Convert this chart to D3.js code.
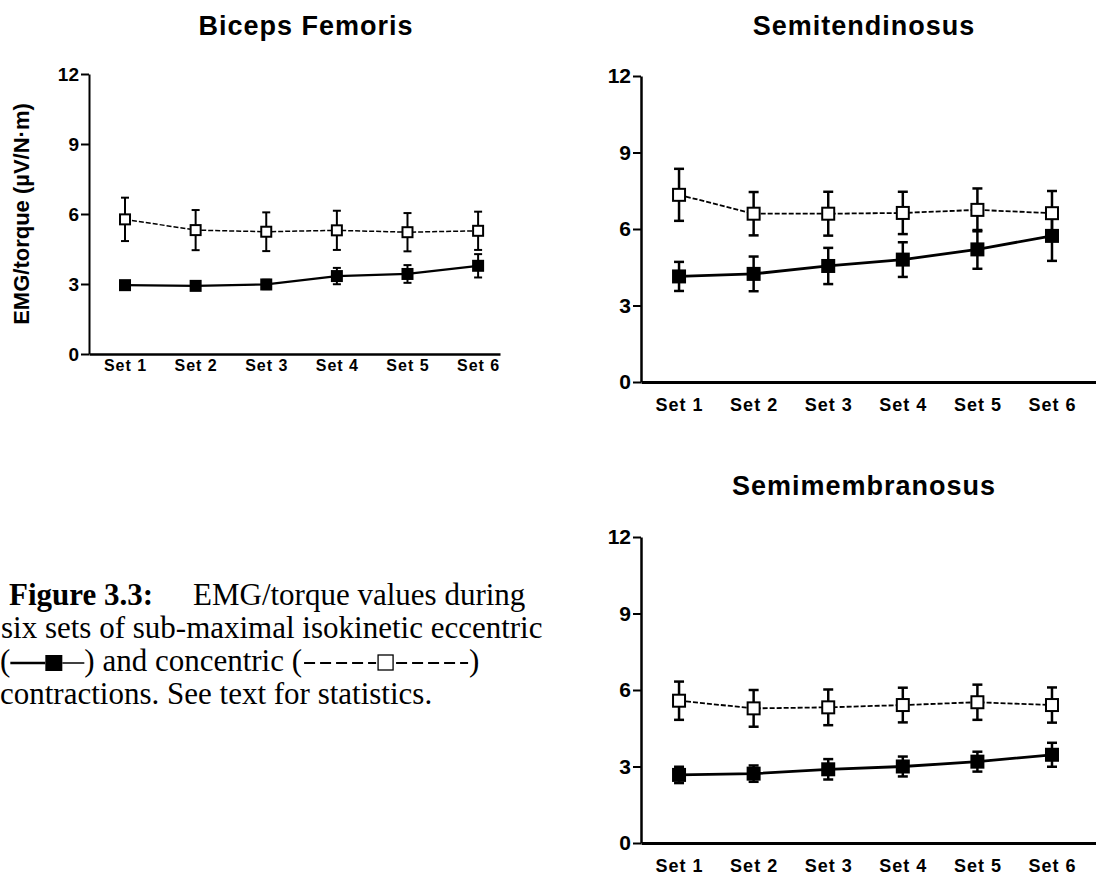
<!DOCTYPE html>
<html>
<head>
<meta charset="utf-8">
<script src="https://cdn.jsdelivr.net/npm/d3@7"></script>
<style>
    body { margin: 0; background: #fff; }
    svg { display: block; }
    .title { font-family: "Liberation Sans", Arial, sans-serif; font-weight: bold; letter-spacing: 1px; }
    .tick text { font-family: "Liberation Sans", Arial, sans-serif; font-weight: bold; fill: #000; }
    .ylabel { font-family: "Liberation Sans", Arial, sans-serif; font-weight: bold; font-size: 22px; }
    .caption { font-family: "Liberation Serif", "Times New Roman", serif; font-size: 31px; fill: #000; }
</style>
</head>
<body>
<svg id="fig" width="1096" height="875"></svg>
<script>

// data (mean and error bar half-length, EMG/torque in µV/N·m)
var sets = ["Set 1", "Set 2", "Set 3", "Set 4", "Set 5", "Set 6"];
var yTicks = [0, 3, 6, 9, 12];

var bfEcc    = [2.95, 2.92, 2.98, 3.34, 3.43, 3.78];
var bfEccErr = [0.15, 0.15, 0.20, 0.35, 0.38, 0.50];
var bfCon    = [5.77, 5.31, 5.24, 5.30, 5.22, 5.28];
var bfConErr = [0.93, 0.86, 0.83, 0.84, 0.82, 0.82];

var stEcc    = [4.14, 4.24, 4.55, 4.80, 5.20, 5.73];
var stEccErr = [0.57, 0.68, 0.71, 0.68, 0.76, 0.98];
var stCon    = [7.34, 6.60, 6.60, 6.63, 6.75, 6.62];
var stConErr = [1.02, 0.85, 0.86, 0.83, 0.84, 0.87];

var smEcc    = [2.67, 2.72, 2.89, 3.00, 3.19, 3.46];
var smEccErr = [0.32, 0.32, 0.40, 0.39, 0.39, 0.47];
var smCon    = [5.58, 5.28, 5.32, 5.41, 5.52, 5.41];
var smConErr = [0.75, 0.72, 0.70, 0.68, 0.69, 0.69];


var svg = d3.select("#fig");


Panel = function(_svg, _opts) {
    this.svg = _svg;
    this.o = _opts;
    this.initVis();
}

Panel.prototype.initVis = function() {
    var vis = this;
    var o = vis.o;

    vis.g = vis.svg.append("g");

    // x runs over set index; a bit of room left of set 1 and to the right
    vis.x = d3.scaleLinear()
        .domain(o.xDomain)
        .range([o.left, o.right]);

    vis.y = d3.scaleLinear()
        .domain([0, 12])
        .range([o.bottom, o.top]);

    vis.g.append("text")
        .attr("class", "title")
        .attr("x", o.titleX)
        .attr("y", o.titleY)
        .attr("text-anchor", "middle")
        .style("font-size", "27px")
        .text(o.title);

    var yAxis = vis.g.append("g")
        .attr("transform", "translate(" + o.left + ",0)")
        .call(d3.axisLeft(vis.y).tickValues(yTicks).tickSize(8).tickSizeOuter(0).tickPadding(2));
    yAxis.select(".domain").attr("stroke", "#000").attr("stroke-width", o.axisW);
    yAxis.selectAll(".tick line").attr("stroke", "#000").attr("stroke-width", 2);
    yAxis.selectAll(".tick text").style("font-size", o.yFont + "px");

    var xAxis = vis.g.append("g")
        .attr("transform", "translate(0," + o.bottom + ")")
        .call(d3.axisBottom(vis.x)
            .tickValues(d3.range(sets.length))
            .tickFormat(function(i) { return sets[i]; })
            .tickSize(0).tickSizeOuter(0).tickPadding(o.xPad));
    xAxis.select(".domain").attr("stroke", "#000").attr("stroke-width", o.axisW + 0.5);
    xAxis.selectAll(".tick text")
        .style("font-size", o.xFont + "px")
        .style("letter-spacing", "1px");

    if (o.yLabel) {
        vis.g.append("text")
            .attr("class", "ylabel")
            .attr("transform", "translate(29," + (o.top + o.bottom) / 2 + ") rotate(-90)")
            .attr("text-anchor", "middle")
            .text(o.yLabel);
    }

    vis.updateVis();
};

Panel.prototype.updateVis = function() {
    var vis = this;
    var o = vis.o;
    var x = vis.x, y = vis.y;

    var line = d3.line()
        .x(function(d, i) { return x(i); })
        .y(function(d) { return y(d); });

    // concentric: dashed
    vis.g.append("path")
        .datum(o.con)
        .attr("d", line)
        .attr("fill", "none")
        .attr("stroke", "#000")
        .attr("stroke-width", o.conW)
        .attr("stroke-dasharray", "5,2");

    // eccentric: solid
    vis.g.append("path")
        .datum(o.ecc)
        .attr("d", line)
        .attr("fill", "none")
        .attr("stroke", "#000")
        .attr("stroke-width", o.eccW);

    var series = [
        {mean: o.ecc, err: o.eccErr, fill: "#000"},
        {mean: o.con, err: o.conErr, fill: "#fff"}
    ];

    series.forEach(function(s) {
        var pts = s.mean.map(function(m, i) { return {i: i, m: m, e: s.err[i]}; });
        var eb = vis.g.append("g").selectAll(".eb")
            .data(pts)
            .enter().append("g")
            .attr("stroke", "#000")
            .attr("stroke-width", o.ebW);

        eb.append("line")
            .attr("x1", function(d) { return x(d.i); })
            .attr("x2", function(d) { return x(d.i); })
            .attr("y1", function(d) { return y(d.m - d.e); })
            .attr("y2", function(d) { return y(d.m + d.e); });
        eb.append("line")
            .attr("x1", function(d) { return x(d.i) - o.cap / 2; })
            .attr("x2", function(d) { return x(d.i) + o.cap / 2; })
            .attr("y1", function(d) { return y(d.m + d.e); })
            .attr("y2", function(d) { return y(d.m + d.e); });
        eb.append("line")
            .attr("x1", function(d) { return x(d.i) - o.cap / 2; })
            .attr("x2", function(d) { return x(d.i) + o.cap / 2; })
            .attr("y1", function(d) { return y(d.m - d.e); })
            .attr("y2", function(d) { return y(d.m - d.e); });

        vis.g.append("g").selectAll("rect")
            .data(pts)
            .enter().append("rect")
            .attr("x", function(d) { return x(d.i) - o.sq / 2; })
            .attr("y", function(d) { return y(d.m) - o.sq / 2; })
            .attr("width", o.sq)
            .attr("height", o.sq)
            .attr("fill", s.fill)
            .attr("stroke", "#000")
            .attr("stroke-width", 2);
    });
};


new Panel(svg, {
    title: "Biceps Femoris", titleX: 306, titleY: 35,
    left: 89, right: 500, top: 74, bottom: 354, xDomain: [-0.51, 5.31],
    ecc: bfEcc, eccErr: bfEccErr, con: bfCon, conErr: bfConErr,
    yFont: 19, xFont: 16, xPad: 6, axisW: 2,
    eccW: 2.2, conW: 1.5, ebW: 2, cap: 8, sq: 10,
    yLabel: "EMG/torque (\u00b5V/N\u00b7m)"
});

new Panel(svg, {
    title: "Semitendinosus", titleX: 864, titleY: 35,
    left: 641, right: 1096, top: 76, bottom: 382, xDomain: [-0.51, 5.59],
    ecc: stEcc, eccErr: stEccErr, con: stCon, conErr: stConErr,
    yFont: 21, xFont: 18, xPad: 16, axisW: 2.5,
    eccW: 2.8, conW: 1.8, ebW: 2.5, cap: 10, sq: 12
});

new Panel(svg, {
    title: "Semimembranosus", titleX: 864, titleY: 495,
    left: 641, right: 1096, top: 537, bottom: 843, xDomain: [-0.51, 5.59],
    ecc: smEcc, eccErr: smEccErr, con: smCon, conErr: smConErr,
    yFont: 21, xFont: 18, xPad: 16, axisW: 2.5,
    eccW: 2.8, conW: 1.8, ebW: 2.5, cap: 10, sq: 12
});


// caption, with small line/marker keys drawn inline
var cap = svg.append("g").attr("class", "caption");

cap.append("text").attr("x", 9).attr("y", 605).style("font-weight", "bold").text("Figure 3.3:");
cap.append("text").attr("x", 193).attr("y", 605).text("EMG/torque values during");
cap.append("text").attr("x", 1).attr("y", 638).text("six sets of sub-maximal isokinetic eccentric");
cap.append("text").attr("x", 0).attr("y", 704).text("contractions. See text for statistics.");

var l3 = 671, keyY = 663;
var t1 = cap.append("text").attr("x", 0).attr("y", l3).text("(");
var cx = t1.node().getComputedTextLength();

cap.append("line").attr("x1", cx).attr("x2", cx + 35).attr("y1", keyY).attr("y2", keyY)
    .attr("stroke", "#000").attr("stroke-width", 2.5);
cap.append("rect").attr("x", cx + 35).attr("y", keyY - 8).attr("width", 17).attr("height", 16).attr("fill", "#000");
cap.append("line").attr("x1", cx + 52).attr("x2", cx + 74).attr("y1", keyY).attr("y2", keyY)
    .attr("stroke", "#000").attr("stroke-width", 1.5);
cx = cx + 74;

var t2 = cap.append("text").attr("x", cx).attr("y", l3).text(") and concentric (");
cx = cx + t2.node().getComputedTextLength() + 2;

cap.append("line").attr("x1", cx).attr("x2", cx + 72).attr("y1", keyY).attr("y2", keyY)
    .attr("stroke", "#000").attr("stroke-width", 1.8).attr("stroke-dasharray", "11,5");
cap.append("rect").attr("x", cx + 74).attr("y", keyY - 8).attr("width", 15).attr("height", 15)
    .attr("fill", "#fff").attr("stroke", "#000").attr("stroke-width", 1.3);
cap.append("line").attr("x1", cx + 92).attr("x2", cx + 164).attr("y1", keyY).attr("y2", keyY)
    .attr("stroke", "#000").attr("stroke-width", 1.8).attr("stroke-dasharray", "11,5");
cap.append("text").attr("x", cx + 165).attr("y", l3).text(")");

</script>
</body>
</html>
